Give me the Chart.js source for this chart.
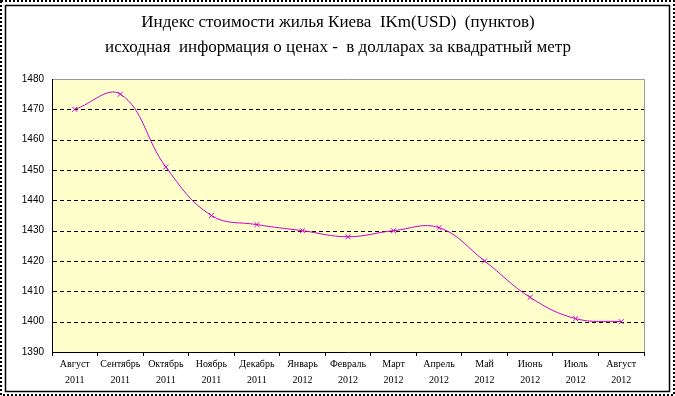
<!DOCTYPE html>
<html>
<head>
<meta charset="utf-8">
<script src="https://cdn.jsdelivr.net/npm/chart.js@4"></script>
<style>
  html, body { margin: 0; padding: 0; background: #fff; }
  #wrap { width: 675px; height: 396px; position: relative; }
</style>
</head>
<body>
<div id="wrap"><canvas id="ikm"></canvas></div>
<script>
// подписи месяцев (две строки)
const months = [
    ["Август", "2011"], ["Сентябрь", "2011"], ["Октябрь", "2011"], ["Ноябрь", "2011"],
    ["Декабрь", "2011"], ["Январь", "2012"], ["Февраль", "2012"], ["Март", "2012"],
    ["Апрель", "2012"], ["Май", "2012"], ["Июнь", "2012"], ["Июль", "2012"], ["Август", "2012"]
];
// индекс IKm(USD), пунктов
const ikmValues = [1470, 1475, 1451, 1435, 1432, 1430, 1428, 1430, 1431, 1420, 1408, 1401, 1400];
const yMin = 1390;
const yMax = 1480;
const yStep = 10;
const titleLines = [
    "Индекс стоимости жилья Киева  IKm(USD)  (пунктов)",
    "исходная  информация о ценах -  в долларах за квадратный метр"
];

// рамка, фон, пунктирная сетка и заголовок
const framePlugin = {
    id: "frame",
    beforeDraw(chart) {
        const c = chart.ctx;
        const a = chart.chartArea;
        c.save();
        c.fillStyle = "#ffffff";
        c.fillRect(0, 0, chart.width, chart.height);
        // внешняя пунктирная рамка
        c.strokeStyle = "#000";
        c.lineWidth = 2;
        c.setLineDash([2, 2]);
        c.strokeRect(1, 1, chart.width - 2, chart.height - 2);
        c.setLineDash([]);
        // внутренняя рамка
        c.lineWidth = 1.5;
        c.strokeRect(5.5, 5.5, chart.width - 11, chart.height - 10);
        // фон области построения
        c.fillStyle = "#FFFFCC";
        c.fillRect(a.left, a.top, a.right - a.left, a.bottom - a.top);
        c.strokeStyle = "#999";
        c.lineWidth = 1;
        c.beginPath();
        c.moveTo(a.left, a.top + 0.5);
        c.lineTo(a.right + 0.5, a.top + 0.5);
        c.lineTo(a.right + 0.5, a.bottom);
        c.stroke();
        // заголовок
        c.fillStyle = "#000";
        c.font = "17px 'Liberation Serif', 'Times New Roman', serif";
        c.textAlign = "center";
        c.textBaseline = "middle";
        c.fillText(titleLines[0], 338, 23);
        c.fillText(titleLines[1], 338, 48);
        c.restore();
    },
    beforeDatasetsDraw(chart) {
        // горизонтальная пунктирная сетка по делениям оси Y
        const c = chart.ctx;
        const a = chart.chartArea;
        const y = chart.scales.y;
        c.save();
        c.strokeStyle = "#000";
        c.lineWidth = 1;
        c.setLineDash([4, 3]);
        y.ticks.forEach(t => {
            if (t.value === yMin || t.value === yMax) return;
            const py = Math.round(y.getPixelForValue(t.value)) + 0.5;
            c.beginPath();
            c.moveTo(a.left + 1, py);
            c.lineTo(a.right, py);
            c.stroke();
        });
        c.restore();
    }
};

const ctx = document.getElementById("ikm").getContext("2d");
const chart = new Chart(ctx, {
    type: "line",
    data: {
        labels: months,
        datasets: [{
            label: "IKm(USD)",
            data: ikmValues,
            borderColor: "#CC00CC",
            borderWidth: 1,
            tension: 0.4,
            pointStyle: "crossRot",
            pointRadius: 3.5,
            pointBorderColor: "#CC00CC",
            pointBorderWidth: 1,
            fill: false
        }]
    },
    options: {
        responsive: true,
        maintainAspectRatio: false,
        animation: false,
        layout: { padding: { top: 79, left: 0, right: 31, bottom: 0 } },
        plugins: {
            legend: { display: false },
            title: { display: false },
            tooltip: { enabled: false }
        },
        scales: {
            x: {
                offset: true,
                afterFit: (s) => { s.height = 44; },
                grid: {
                    offset: true,
                    drawOnChartArea: false,
                    drawTicks: true,
                    tickLength: 4,
                    tickColor: "#000"
                },
                border: { display: true, color: "#000", width: 1 },
                ticks: {
                    color: "#000",
                    maxRotation: 0,
                    autoSkip: false,
                    padding: 0,
                    font: { family: "'Liberation Serif', 'Times New Roman', serif", size: 10, lineHeight: 1.6 }
                }
            },
            y: {
                min: yMin,
                max: yMax,
                afterFit: (s) => { s.width = 52; },
                grid: {
                    drawTicks: false,
                    drawOnChartArea: false
                },
                border: { display: true, color: "#000", width: 1 },
                ticks: {
                    stepSize: yStep,
                    color: "#000",
                    padding: 8,
                    callback: (v) => String(v),
                    font: { family: "'Liberation Sans', Arial, sans-serif", size: 10 }
                }
            }
        }
    },
    plugins: [framePlugin]
});
</script>
</body>
</html>
